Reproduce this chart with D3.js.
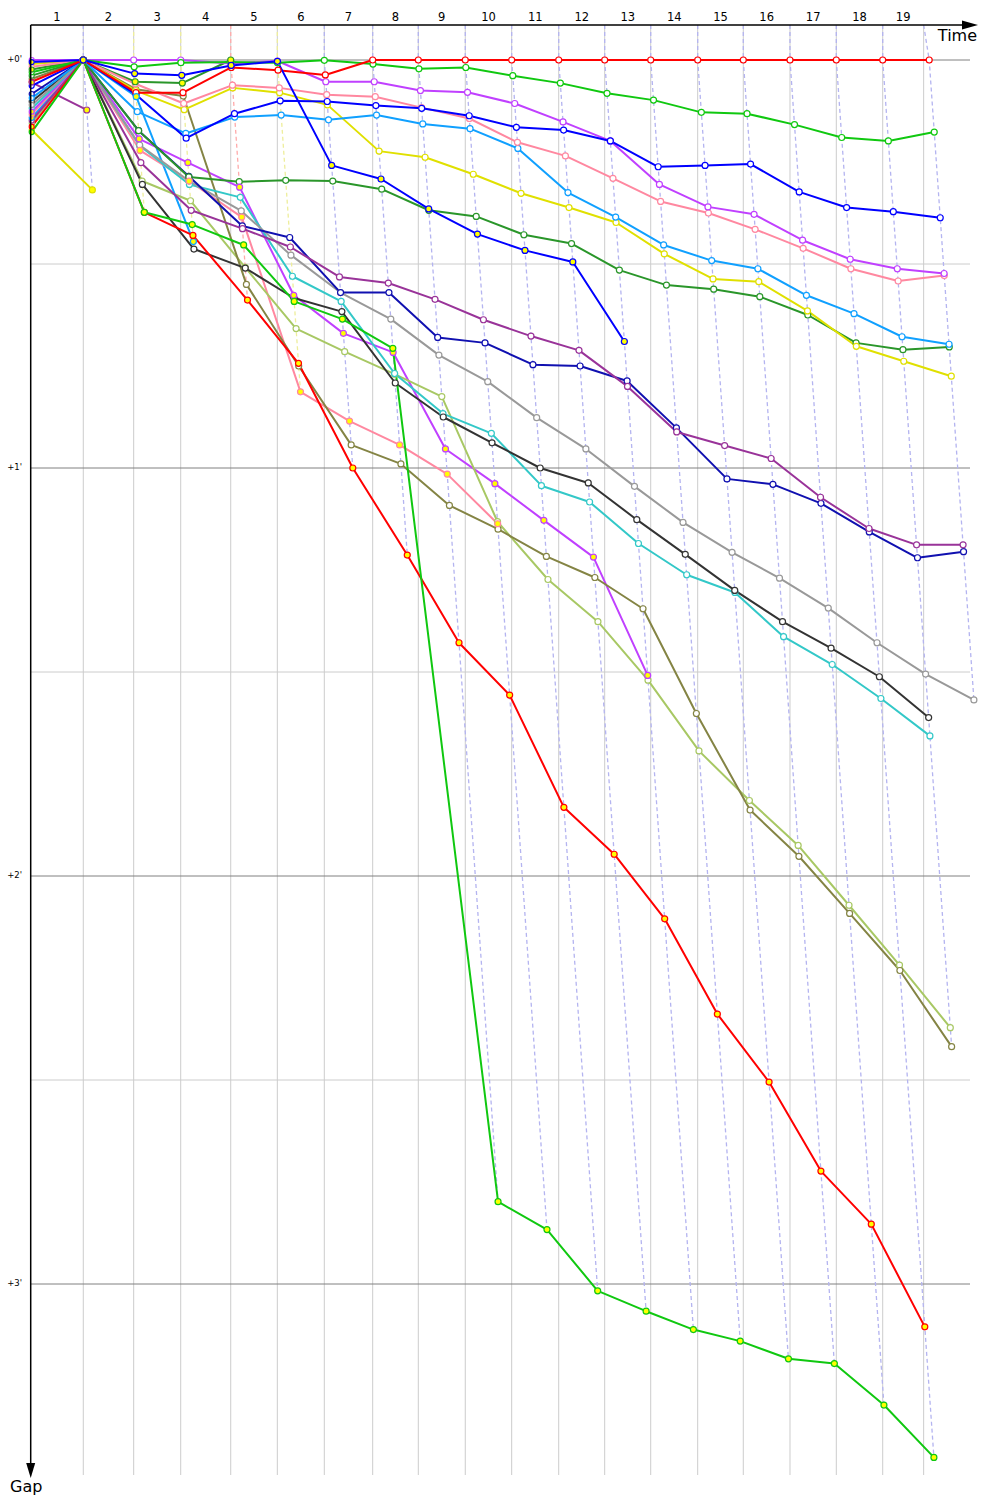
<!DOCTYPE html>
<html><head><meta charset="utf-8">
<script src="https://cdn.jsdelivr.net/npm/d3@7"></script>
<style>body{margin:0;background:#fff}svg{display:block}</style>
</head><body>
<script>
// ---- DATA ----
// leader cumulative time (s) at end of each lap 0..19
const lapTimes = [0, 110.7, 216.8, 315.8, 421.1, 519.2, 618.1, 720.0, 816.0, 914.9, 1012.6, 1111.6, 1208.4, 1305.3, 1404.2, 1500.2, 1598.5, 1696.0, 1793.7, 1891.6];
// time grid (s) for the lap columns
const gridTimes = [0, 110.7, 216.8, 315.8, 421.1, 519.2, 618.1, 720.0, 816.0, 914.9, 1012.6, 1111.6, 1208.4, 1305.3, 1404.2, 1500.2, 1598.5, 1696.0, 1793.7, 1879.9];
const lapLabels = ["1","2","3","4","5","6","7","8","9","10","11","12","13","14","15","16","17","18","19"];
const gapTicks = [0, 60, 120, 180];
const gapTickLabels = ["+0'", "+1'", "+2'", "+3'"];
const gapHalfTicks = [30, 90, 150];
// dashed lap-line colours (laps 1..19)
const lapLineColors = ["#b4b4f0","#eeee9c","#eeee9c","#ffaaaa","#eeee9c","#b4b4f0","#b4b4f0","#b4b4f0","#b4b4f0","#b4b4f0","#b4b4f0","#b4b4f0","#b4b4f0","#b4b4f0","#b4b4f0","#b4b4f0","#b4b4f0","#b4b4f0","#b4b4f0"];

// gaps to leader in seconds, laps 0..19 (null = no time)
const gapRed        = [3.2, 0, 4.8, 4.8, 1.1, 1.5, 2.2, 0,0,0,0,0,0,0,0,0,0,0,0,0];
const gapGreen      = [1.8, 0, 1.0, 0.4, 0.3, 0.4, 0.05, 0.6, 1.3, 1.1, 2.3, 3.4, 4.9, 5.9, 7.7, 7.9, 9.5, 11.4, 11.9, 10.6];
const gapBlue       = [3.8, 0, 5.1, 11.5, 7.9, 6.0, 6.1, 6.7, 7.1, 8.2, 9.9, 10.3, 11.9, 15.7, 15.5, 15.3, 19.4, 21.7, 22.3, 23.2];
const gapViolet     = [0, 0, 0, 0, 0.5, 0.15, 3.2, 3.2, 4.5, 4.75, 6.4, 9.1, 11.9, 18.3, 21.6, 22.7, 26.5, 29.3, 30.7, 31.4];
const gapPink       = [1.0, 0, 3.5, 6.4, 3.7, 4.1, 5.1, 5.4, 7.0, 8.6, 12.1, 14.1, 17.4, 20.8, 22.5, 24.9, 27.7, 30.7, 32.5, 31.7];
const gapLightBlue  = [5.6, 0, 7.6, 10.8, 8.4, 8.1, 8.8, 8.1, 9.4, 10.1, 13.0, 19.5, 23.1, 27.2, 29.5, 30.7, 34.6, 37.3, 40.7, 41.8];
const gapYellow     = [0.6, 0, 4.5, 7.3, 4.1, 4.8, 6.6, 13.4, 14.3, 16.8, 19.6, 21.7, 23.9, 28.5, 32.2, 32.6, 36.9, 42.1, 44.3, 46.5];
const gapDarkGreen  = [2.3, 0, 10.4, 17.2, 17.9, 17.7, 17.8, 19.0, 22.1, 23.0, 25.7, 27.0, 30.9, 33.1, 33.7, 34.8, 37.5, 41.6, 42.6, 42.2];
const gapPurple     = [8.9, 0, 15.1, 22.1, 24.8, 27.5, 31.9, 32.8, 35.2, 38.2, 40.6, 42.7, 48.0, 54.7, 56.7, 58.6, 64.3, 68.9, 71.3, 71.3];
const gapNavy       = [5.0, 0, 10.4, 17.1, 24.4, 26.1, 34.2, 34.2, 40.8, 41.6, 44.8, 45.0, 47.2, 54.1, 61.6, 62.4, 65.2, 69.4, 73.2, 72.3];
const gapGray       = [6.6, 0, 12.5, 17.8, 22.2, 28.7, 34.2, 38.1, 43.4, 47.3, 52.6, 57.2, 62.7, 68.0, 72.4, 76.2, 80.6, 85.7, 90.3, 94.1];
const gapBlack      = [6.1, 0, 18.3, 27.8, 30.6, 35.0, 37.0, 47.5, 52.5, 56.3, 60.0, 62.2, 67.6, 72.7, 78.0, 82.6, 86.5, 90.7, 96.7, null];
const gapCyan       = [7.1, 0, 12.6, 18.3, 20.2, 31.8, 35.5, 46.1, 52.0, 54.9, 62.6, 65.0, 71.1, 75.7, 78.3, 84.8, 88.9, 93.9, 99.4, null];
const gapOlive      = [2.8, 0, 4.3, 5.3, 33.0, 45.0, 56.6, 59.4, 65.5, 69.0, 73.0, 76.1, 80.7, 96.1, 110.3, 117.1, 125.5, 133.9, 145.1, null];
const gapYellowGreen= [9.3, 0, 17.8, 20.7, 30.5, 39.5, 42.9, 46.2, 49.5, 67.9, 76.4, 82.6, 91.2, 101.6, 108.9, 115.5, 124.3, 133.1, 142.3, null];
// retired entries (yellow markers)
const gapGreenR     = [10.6, 0, 22.4, 24.2, 27.2, 35.5, 38.1, 42.4, 167.9, 172.0, 181.0, 184.0, 186.7, 188.4, 191.0, 191.7, 197.8, 205.5, null, null];
const gapRedR       = [9.8, 0, 22.4, 25.8, 35.3, 44.6, 60.0, 72.8, 85.7, 93.4, 109.9, 116.8, 126.3, 140.3, 150.3, 163.4, 171.2, 186.3, null, null];
const gapBlueR      = [0.3, 0, 2.0, 2.25, 0.8, 0.2, 15.5, 17.5, 21.9, 25.6, 28.0, 29.7, 41.4, null, null, null, null, null, null, null];
const gapVioletR    = [7.6, 0, 11.6, 15.1, 18.7, 34.6, 40.2, 43.0, 57.2, 62.3, 67.7, 73.1, 90.5, null, null, null, null, null, null, null];
const gapPinkR      = [8.0, 0, 13.3, 17.8, 23.1, 48.8, 53.1, 56.6, 60.9, 68.2, null, null, null, null, null, null, null, null, null, null];
const gapLightBlueR = [8.5, 0, 5.4, 26.7, null, null, null, null, null, null, null, null, null, null, null, null, null, null, null, null];
const gapYellowR    = [10.3, 19.1, null, null, null, null, null, null, null, null, null, null, null, null, null, null, null, null, null, null];
const gapPurpleR    = [3.3, 7.35, null, null, null, null, null, null, null, null, null, null, null, null, null, null, null, null, null, null];
const gapDarkGreenR = [1.4, 0, 3.2, 3.4, 0, null, null, null, null, null, null, null, null, null, null, null, null, null, null, null];

const colors = {red:"#ff0000", green:"#10c810", blue:"#0000ff", violet:"#c040ff", pink:"#ff88a0", lightBlue:"#10a0ff",
  yellow:"#e0e000", darkGreen:"#2a962a", purple:"#993399", navy:"#1010b0", gray:"#999999", black:"#333333",
  cyan:"#33c8c8", olive:"#848444", yellowGreen:"#a8c864"};

// drawing order: first = bottom
const series = [
  {gaps: gapDarkGreenR, color: colors.darkGreen, retired: true},
  {gaps: gapPurpleR, color: colors.purple, retired: true},
  {gaps: gapYellowR, color: colors.yellow, retired: true},
  {gaps: gapLightBlueR, color: colors.lightBlue, retired: true},
  {gaps: gapPinkR, color: colors.pink, retired: true},
  {gaps: gapVioletR, color: colors.violet, retired: true},
  {gaps: gapYellowGreen, color: colors.yellowGreen, retired: false},
  {gaps: gapOlive, color: colors.olive, retired: false},
  {gaps: gapCyan, color: colors.cyan, retired: false},
  {gaps: gapBlack, color: colors.black, retired: false},
  {gaps: gapGray, color: colors.gray, retired: false},
  {gaps: gapNavy, color: colors.navy, retired: false},
  {gaps: gapPurple, color: colors.purple, retired: false},
  {gaps: gapDarkGreen, color: colors.darkGreen, retired: false},
  {gaps: gapYellow, color: colors.yellow, retired: false},
  {gaps: gapLightBlue, color: colors.lightBlue, retired: false},
  {gaps: gapPink, color: colors.pink, retired: false},
  {gaps: gapViolet, color: colors.violet, retired: false},
  {gaps: gapRedR, color: colors.red, retired: true},
  {gaps: gapGreenR, color: colors.green, retired: true},
  {gaps: gapBlue, color: colors.blue, retired: false},
  {gaps: gapGreen, color: colors.green, retired: false},
  {gaps: gapRed, color: colors.red, retired: false},
  {gaps: gapBlueR, color: colors.blue, retired: true}
];

// ---- CHART ----
const W = 1000, H = 1500;
const axisY = 25, axisX = 30.7, bottomY = 1475;
const x = d3.scaleLinear().domain([0, 2000]).range([axisX, axisX + 950]);
const y = d3.scaleLinear().domain([0, 180]).range([60, 1284]);

const svg = d3.select("body").append("svg").attr("width", W).attr("height", H)
  .style("font-family", "'DejaVu Sans', Verdana, sans-serif");

// vertical lap grid
svg.append("g").selectAll("line").data(gridTimes.slice(1)).join("line")
  .attr("x1", d => x(d)).attr("x2", d => x(d)).attr("y1", axisY).attr("y2", bottomY)
  .attr("stroke", "#cccccc").attr("stroke-width", 1);

// horizontal gap grid
svg.append("g").selectAll("line").data(gapHalfTicks).join("line")
  .attr("x1", axisX).attr("x2", 970).attr("y1", d => y(d)).attr("y2", d => y(d))
  .attr("stroke", "#cccccc").attr("stroke-width", 1);
svg.append("g").selectAll("line").data(gapTicks).join("line")
  .attr("x1", axisX).attr("x2", 970).attr("y1", d => y(d)).attr("y2", d => y(d))
  .attr("stroke", "#808080").attr("stroke-width", 1);

// gap labels
svg.append("g").selectAll("text").data(gapTicks).join("text")
  .attr("x", 22).attr("y", d => y(d) + 2).attr("text-anchor", "end")
  .attr("font-size", 8.5).attr("fill", "#000").text((d, i) => gapTickLabels[i]);

// dashed lap lines
const pointX = (k, g) => k === 0 ? x(lapTimes[0]) + 1 : x(lapTimes[k] + g);
const lapLines = d3.range(1, 20).map(k => {
  const gs = series.map(s => s.gaps[k]).filter(g => g !== null && g !== undefined);
  const maxG = d3.max(gs);
  return {k, pts: [[x(gridTimes[k]), axisY], [x(lapTimes[k]), y(0)], [x(lapTimes[k] + maxG), y(maxG)]]};
});
svg.append("g").selectAll("path").data(lapLines).join("path")
  .attr("d", d => d3.line()(d.pts)).attr("fill", "none")
  .attr("stroke", d => lapLineColors[d.k - 1]).attr("stroke-width", 1.3)
  .attr("stroke-dasharray", "4,3");

// series lines
const line = d3.line().x(d => d.x).y(d => d.y);
const seriesPts = series.map(s => ({
  s, pts: s.gaps.map((g, k) => ({k, g})).filter(p => p.g !== null)
    .map(p => ({k: p.k, g: p.g, x: pointX(p.k, p.g), y: y(p.g)}))
}));
svg.append("g").selectAll("path").data(seriesPts).join("path")
  .attr("d", d => line(d.pts)).attr("fill", "none")
  .attr("stroke", d => d.s.color).attr("stroke-width", 2).attr("stroke-linejoin", "round");

// markers: finishers first, retired (yellow) on top
const mg = svg.append("g");
const markerOrder = seriesPts.filter(d => !d.s.retired).concat(seriesPts.filter(d => d.s.retired));
markerOrder.forEach(d => {
  mg.append("g").selectAll("circle").data(d.pts).join("circle")
    .attr("cx", p => p.x).attr("cy", p => p.y).attr("r", p => p.k === 0 ? 2.5 : 3)
    .attr("fill", d.s.retired ? "#ffff00" : "#ffffff")
    .attr("stroke", d.s.color).attr("stroke-width", 1.2);
});

// axes
svg.append("line").attr("x1", axisX).attr("x2", 968).attr("y1", axisY).attr("y2", axisY)
  .attr("stroke", "#000").attr("stroke-width", 1.5);
svg.append("path").attr("d", `M978,${axisY} L962,${axisY - 4.5} L962,${axisY + 4.5} Z`).attr("fill", "#000");
svg.append("line").attr("x1", axisX).attr("x2", axisX).attr("y1", axisY).attr("y2", 1466)
  .attr("stroke", "#000").attr("stroke-width", 1.5);
svg.append("path").attr("d", `M${axisX},1478 L${axisX - 4.5},1463 L${axisX + 4.5},1463 Z`).attr("fill", "#000");

// lap labels
svg.append("g").selectAll("text").data(lapLabels).join("text")
  .attr("x", (d, i) => (x(gridTimes[i]) + x(gridTimes[i + 1])) / 2).attr("y", 21)
  .attr("text-anchor", "middle").attr("font-size", 11.5).attr("fill", "#000").text(d => d);

svg.append("text").attr("x", 977).attr("y", 41).attr("text-anchor", "end")
  .attr("font-size", 16).attr("fill", "#000").text("Time");
svg.append("text").attr("x", 10).attr("y", 1492)
  .attr("font-size", 16).attr("fill", "#000").text("Gap");
</script>
</body></html>
